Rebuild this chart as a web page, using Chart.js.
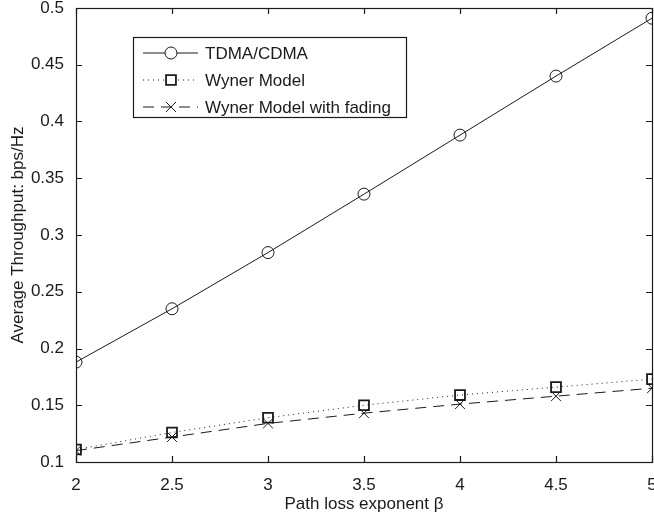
<!DOCTYPE html>
<html>
<head>
<meta charset="utf-8">
<script src="https://cdn.jsdelivr.net/npm/chart.js@4.4.1/dist/chart.umd.min.js"></script>
<style>
  html, body { margin: 0; padding: 0; background: #fff; }
  #wrap { width: 654px; height: 515px; }
</style>
</head>
<body>
<div id="wrap"><canvas id="c" width="654" height="515"></canvas></div>
<script>
// path loss exponent beta
var betaValues = [2, 2.5, 3, 3.5, 4, 4.5, 5];
var tdmaCdma = [0.188, 0.235, 0.2845, 0.336, 0.388, 0.44, 0.491];
var wynerModel = [0.111, 0.126, 0.139, 0.150, 0.159, 0.166, 0.173];
var wynerFading = [0.110, 0.122, 0.134, 0.143, 0.151, 0.158, 0.165];
var xTicks = [2, 2.5, 3, 3.5, 4, 4.5, 5];
var yTicks = [0.1, 0.15, 0.2, 0.25, 0.3, 0.35, 0.4, 0.45, 0.5];
var seriesNames = ['TDMA/CDMA', 'Wyner Model', 'Wyner Model with fading'];

var FONT = '"Liberation Sans", Arial, Helvetica, sans-serif';
var INK = '#1a1a1a';
var FS = 17;

function pts(ys) {
  return betaValues.map(function (x, i) { return { x: x, y: ys[i] }; });
}

// box around the axes + inward ticks, matlab style
var boxPlugin = {
  id: 'box',
  afterDraw: function (chart) {
    var ctx = chart.ctx, a = chart.chartArea;
    var xs = chart.scales.x, ys = chart.scales.y;
    ctx.save();
    ctx.strokeStyle = INK;
    ctx.lineWidth = 1.2;
    ctx.strokeRect(a.left + 0.5, a.top + 0.5, a.right - a.left, a.bottom - a.top);
    ctx.beginPath();
    var len = 6;
    xTicks.forEach(function (v) {
      var px = Math.round(xs.getPixelForValue(v)) + 0.5;
      ctx.moveTo(px, a.bottom); ctx.lineTo(px, a.bottom - len);
      ctx.moveTo(px, a.top); ctx.lineTo(px, a.top + len);
    });
    yTicks.forEach(function (v) {
      var py = Math.round(ys.getPixelForValue(v)) + 0.5;
      ctx.moveTo(a.left, py); ctx.lineTo(a.left + len, py);
      ctx.moveTo(a.right, py); ctx.lineTo(a.right - len, py);
    });
    ctx.stroke();
    ctx.restore();
  }
};

// legend in a box, upper left
var legendPlugin = {
  id: 'boxLegend',
  afterDraw: function (chart) {
    var ctx = chart.ctx;
    var bx = 133, by = 37, bw = 273, bh = 80;
    ctx.save();
    ctx.fillStyle = '#fff';
    ctx.fillRect(bx, by, bw, bh);
    ctx.strokeStyle = INK;
    ctx.lineWidth = 1.2;
    ctx.strokeRect(bx + 0.5, by + 0.5, bw, bh);
    ctx.font = FS + 'px ' + FONT;
    ctx.textBaseline = 'middle';
    chart.data.datasets.forEach(function (ds, i) {
      var y = by + 16 + i * 27;
      ctx.strokeStyle = INK;
      ctx.lineWidth = 1;
      ctx.beginPath();
      ctx.setLineDash(ds.borderDash || []);
      ctx.moveTo(bx + 10, y); ctx.lineTo(bx + 65, y);
      ctx.stroke();
      ctx.setLineDash([]);
      ctx.fillStyle = '#fff';
      ctx.lineWidth = ds.pointBorderWidth;
      Chart.helpers.drawPoint(ctx, {
        pointStyle: ds.pointStyle,
        radius: ds.pointRadius,
        borderWidth: ds.pointBorderWidth
      }, bx + 38, y);
      ctx.fillStyle = INK;
      ctx.fillText(ds.label, bx + 72, y + 1);
    });
    ctx.restore();
  }
};

new Chart(document.getElementById('c'), {
  type: 'line',
  data: {
    datasets: [{
      label: seriesNames[0],
      data: pts(tdmaCdma),
      borderColor: INK, borderWidth: 1,
      pointStyle: 'circle', pointRadius: 6,
      pointBorderColor: INK, pointBackgroundColor: 'rgba(0,0,0,0)', pointBorderWidth: 1
    }, {
      label: seriesNames[1],
      data: pts(wynerModel),
      borderColor: INK, borderWidth: 1, borderDash: [1, 4],
      pointStyle: 'rect', pointRadius: 7,
      pointBorderColor: INK, pointBackgroundColor: 'rgba(0,0,0,0)', pointBorderWidth: 1.8
    }, {
      label: seriesNames[2],
      data: pts(wynerFading),
      borderColor: INK, borderWidth: 1, borderDash: [11, 7],
      pointStyle: 'crossRot', pointRadius: 7,
      pointBorderColor: INK, pointBorderWidth: 1
    }]
  },
  options: {
    responsive: false,
    animation: false,
    layout: { autoPadding: false, padding: { top: 8, right: 2, left: 0, bottom: 0 } },
    plugins: { legend: { display: false }, tooltip: { enabled: false } },
    scales: {
      x: {
        type: 'linear', min: 2, max: 5,
        afterBuildTicks: function (s) { s.ticks = xTicks.map(function (v) { return { value: v }; }); },
        afterFit: function (s) { s.height = 53; s.paddingLeft = 0; s.paddingRight = 0; },
        grid: { display: false },
        border: { display: false },
        ticks: { color: INK, font: { family: FONT, size: FS }, padding: 5, maxRotation: 0,
          callback: function (v) { return String(v); } },
        title: { display: true, text: 'Path loss exponent β', color: INK, font: { family: FONT, size: FS }, padding: { top: 4, bottom: 0 } }
      },
      y: {
        type: 'linear', min: 0.1, max: 0.5,
        afterBuildTicks: function (s) { s.ticks = yTicks.map(function (v) { return { value: v }; }); },
        afterFit: function (s) { s.width = 76; s.paddingTop = 0; s.paddingBottom = 0; },
        grid: { display: false },
        border: { display: false },
        ticks: { color: INK, font: { family: FONT, size: FS }, padding: 4,
          callback: function (v) { return String(+v.toFixed(2)); } },
        title: { display: true, text: 'Average Throughput: bps/Hz', color: INK, font: { family: FONT, size: FS }, padding: { top: 8, bottom: 0 } }
      }
    }
  },
  plugins: [boxPlugin, legendPlugin]
});
</script>
</body>
</html>
